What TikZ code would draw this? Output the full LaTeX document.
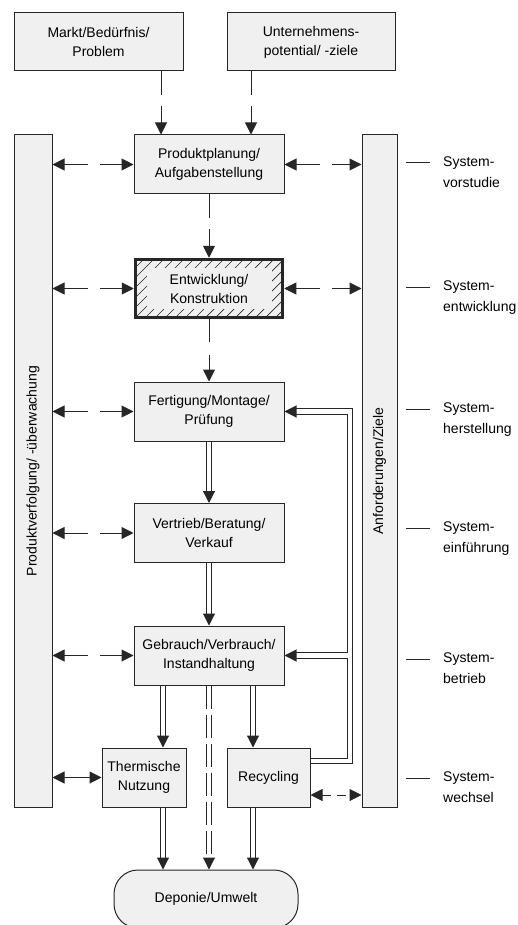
\documentclass[tikz,border=0pt]{standalone}
\usepackage{fontspec}
\setmainfont{Liberation Sans}
\usetikzlibrary{arrows.meta}
\definecolor{boxgray}{gray}{0.94}
\begin{document}
\begin{tikzpicture}[x=1pt,y=-1pt,
  box/.style={draw=black!85, fill=boxgray, line width=1pt, inner sep=0pt, align=center,
    minimum width=150pt, minimum height=59pt, font=\fontsize{14}{19}\selectfont},
  bar/.style={draw=black!85, fill=boxgray, line width=1pt, inner sep=0pt, minimum height=672pt},
  bartext/.style={rotate=90, inner sep=0pt, font=\fontsize{14}{19}\selectfont},
  hatch/.style={path picture={
    \foreach \i in {-70,-60,...,160}
      \draw[black!85, line width=.7pt] ([xshift=\i pt]path picture bounding box.south west) -- ++(62pt,62pt);
    \fill[boxgray] ([xshift=11pt,yshift=9pt]path picture bounding box.south west)
      rectangle ([xshift=-11pt,yshift=-8pt]path picture bounding box.north east);}},
  tip/.style={-{Triangle[length=12pt,width=12pt]}},
  tips/.style={{Triangle[length=12pt,width=12pt]}-{Triangle[length=12pt,width=12pt]}},
  dsh/.style={tip, draw=black!85, line width=1pt, dash pattern=on 24pt off 11pt},
  dshb/.style={tips, draw=black!85, line width=1pt, dash pattern=on 24pt off 12pt},
  dbl/.style={tip, draw=black!85, line width=1.1pt, double, double distance=4.6pt},
  lab/.style={align=left, anchor=north west, inner sep=0pt, font=\fontsize{14}{21}\selectfont},
  tick/.style={draw=black!85, line width=1pt}]
\useasboundingbox (0,0) rectangle (517,925);

% Eingaenge
\node[box, minimum width=169pt, minimum height=58pt] (markt) at (98.5,42) {Markt/Bedürfnis/\\Problem};
\node[box, minimum width=168pt, minimum height=58pt] (unt) at (311,42) {Unternehmens-\\potential/ -ziele};

% Seitenbalken
\node[bar, minimum width=38pt] (lbar) at (33,471) {};
\node[bartext] at (lbar) {Produktverfolgung/ -überwachung};
\node[bar, minimum width=35pt] (rbar) at (379.5,471) {};
\node[bartext] at (rbar) {Anforderungen/Ziele};

% Phasen
\node[box] (plan) at (209,164.5) {Produktplanung/\\Aufgabenstellung};
\node[box, hatch, line width=3.5pt, minimum width=147pt, minimum height=58pt] (entw) at (209,288.5) {Entwicklung/\\Konstruktion};
\node[box] (fert) at (209,411.5) {Fertigung/Montage/\\Prüfung};
\node[box] (vert) at (209,533) {Vertrieb/Beratung/\\Verkauf};
\node[box] (gebr) at (209,655.5) {Gebrauch/Verbrauch/\\Instandhaltung};
\node[box, minimum width=84pt] (therm) at (144,777.5) {Thermische\\Nutzung};
\node[box, minimum width=83pt] (rec) at (268.5,777.5) {Recycling};
\node[box, minimum width=184pt, minimum height=58pt, rounded corners=24pt] (dep) at (206,899) {Deponie/Umwelt};

% Pfeile oben
\coordinate (pa) at ([xshift=-48pt]plan.north);
\coordinate (pb) at ([xshift=42pt]plan.north);
\draw[dsh] (markt.south -| pa) -- (pa);
\draw[dsh] (unt.south -| pb) -- (pb);
\draw[dsh] (plan) -- (entw);
\draw[dsh, dash pattern=on 23pt off 13pt] (entw) -- (fert);
\draw[dbl] (fert) -- (vert);
\draw[dbl] (vert) -- (gebr);

% Pfeile zu den Balken
\draw[dshb] (lbar.east |- plan.west) -- (plan.west);
\draw[dshb] (plan.east) -- (plan.east -| rbar.west);
\draw[dshb] (lbar.east |- entw.west) -- (entw.west);
\draw[dshb] (entw.east) -- (entw.east -| rbar.west);
\draw[dshb] (lbar.east |- fert.west) -- (fert.west);
\draw[dshb] (lbar.east |- vert.west) -- (vert.west);
\draw[dshb] (lbar.east |- gebr.west) -- (gebr.west);
\draw[tips, draw=black!85, line width=1pt] (lbar.east |- therm.west) -- (therm.west);
\coordinate (r2) at ([yshift=-17.5pt]rec.east);
\draw[dshb, dash pattern=on 9pt off 6pt] (r2) -- (r2 -| rbar.west);

% Rueckfuehrung
\coordinate (fb) at (350,0);
\coordinate (fbi) at (347.7,0);
\coordinate (r1) at ([yshift=16.5pt]rec.east);
\draw[dbl] (r1) -- (r1 -| fb) -- (fert.east -| fb) -- (fert.east);
\draw[dbl] (gebr.east -| fbi) -- (gebr.east);

% Pfeile unten
\coordinate (g1) at ([xshift=-46pt]gebr.south);
\coordinate (g3) at ([xshift=44pt]gebr.south);
\draw[dbl] (g1) -- (g1 |- therm.north);
\draw[dbl, dash pattern=on 23pt off 6pt] (gebr.south) -- (gebr.south |- dep.north);
\draw[dbl] (g3) -- (g3 |- rec.north);
\draw[dbl] (g1 |- therm.south) -- (g1 |- dep.north);
\draw[dbl] (g3 |- rec.south) -- (g3 |- dep.north);

% Systemphasen
\draw[tick] (406,163) -- (430,163);
\node[lab] (s1) at (443,157) {System-\\vorstudie};
\draw[tick] (406,287) -- (430,287);
\node[lab] (s2) at (443,281) {System-\\entwicklung};
\draw[tick] (406,409) -- (430,409);
\node[lab] (s3) at (443,403) {System-\\herstellung};
\draw[tick] (406,528) -- (430,528);
\node[lab] (s4) at (443,522) {System-\\einführung};
\draw[tick] (406,659) -- (430,659);
\node[lab] (s5) at (443,653) {System-\\betrieb};
\draw[tick] (406,778) -- (430,778);
\node[lab] (s6) at (443,772) {System-\\wechsel};
\end{tikzpicture}
\end{document}
